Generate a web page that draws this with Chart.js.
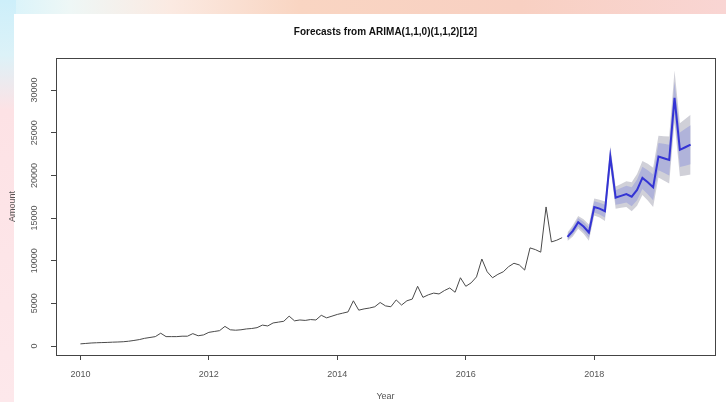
<!DOCTYPE html>
<html>
<head>
<meta charset="utf-8">
<script src="https://cdn.jsdelivr.net/npm/chart.js@4.4.1/dist/chart.umd.min.js"></script>
<style>
  html, body { margin: 0; padding: 0; }
  body {
    width: 726px; height: 402px; position: relative; overflow: hidden;
    background: linear-gradient(to right, #d6f3fb 0px, #eef7f6 70px, #fbeae2 170px, #f9d5c2 300px, #f8d0c2 520px, #f9d5d3 726px);
  }
  #side {
    position: absolute; left: 0; top: 0; width: 16px; height: 402px;
    background: linear-gradient(to bottom, #cdeffa 0px, #dcf2f8 55px, #fde2e5 110px, #fde8eb 402px);
  }
  #panel { position: absolute; left: 14px; top: 14px; right: 0; bottom: 0; background: #fff; }
  #wrap { position: absolute; left: 0; top: 0; width: 726px; height: 402px; }
</style>
</head>
<body>
<div id="side"></div>
<div id="panel"></div>
<div id="wrap"><canvas id="fc" width="726" height="402"></canvas></div>
<script>
// monthly series, Jan 2010 .. Jul 2017
const startYear = 2010;
const history = [
  250, 300, 350, 380, 400, 420, 450, 470, 500, 560, 650, 750,
  900, 1000, 1100, 1500, 1100, 1100, 1100, 1150, 1150, 1450, 1200, 1300,
  1600, 1700, 1800, 2300, 1900, 1850, 1900, 2000, 2050, 2150, 2450, 2350,
  2700, 2800, 2900, 3500, 2950, 3050, 3000, 3100, 3050, 3600, 3300, 3500,
  3700, 3850, 4000, 5300, 4200, 4350, 4450, 4600, 5100, 4700, 4600, 5400,
  4800, 5300, 5500, 7000, 5700, 6000, 6200, 6100, 6500, 6800, 6300, 8000,
  7000, 7400, 8100, 10200, 8700, 8000, 8400, 8700, 9300, 9700, 9500, 8900,
  11500, 11300, 11000, 16300, 12200, 12400, 12700
];

// 24-month forecast, Aug 2017 .. Jul 2019
const forecast = [
  12800, 13500, 14500, 14000, 13300, 16300, 16100, 15800, 22200, 17400, 17600, 17800,
  17500, 18300, 19700, 19200, 18600, 22200, 22000, 21800, 29100, 23000, 23300, 23600
];
const lo80 = [
  12470, 13070, 14010, 13440, 12680, 15640, 15410, 15050, 21380, 16550, 16680, 16820,
  16390, 17090, 18390, 17790, 17090, 20600, 20300, 20000, 27200, 20970, 21140, 21310
];
const hi80 = [
  13130, 13930, 14990, 14560, 13920, 16960, 16790, 16550, 23020, 18250, 18520, 18780,
  18610, 19510, 21010, 20610, 20110, 23800, 23700, 23600, 31000, 25030, 25460, 25890
];
const lo95 = [
  12300, 12850, 13750, 13150, 12350, 15300, 15050, 14650, 20950, 16100, 16200, 16300,
  15800, 16450, 17700, 17050, 16300, 19750, 19400, 19050, 26200, 19900, 20000, 20100
];
const hi95 = [
  13300, 14150, 15250, 14850, 14250, 17300, 17150, 16950, 23450, 18700, 19000, 19300,
  19200, 20150, 21700, 21350, 20900, 24650, 24600, 24550, 32300, 26100, 26600, 27100
];

const xTicks = [2010, 2012, 2014, 2016, 2018];
const yTicks = [0, 5000, 10000, 15000, 20000, 25000, 30000];

const toPoints = (vals, offset) => vals.map((v, i) => ({ x: startYear + (offset + i) / 12, y: v }));
const fcStart = history.length;

const band = (data, color, fill) => ({
  data: toPoints(data, fcStart), borderWidth: 0, pointRadius: 0,
  backgroundColor: color, fill: fill
});

const font = 'Liberation Sans, Arial, sans-serif';

// box around the plot region plus vertical y tick labels, base-graphics style
const rFrame = {
  id: 'rFrame',
  afterDatasetsDraw(chart) {
    const { ctx, chartArea: a, scales: { y } } = chart;
    ctx.save();
    ctx.strokeStyle = '#444';
    ctx.lineWidth = 1;
    ctx.strokeRect(Math.round(a.left) + 0.5, Math.round(a.top) + 0.5,
      Math.round(a.right - a.left), Math.round(a.bottom - a.top));
    ctx.fillStyle = '#555';
    ctx.font = '9px ' + font;
    ctx.textAlign = 'center';
    ctx.textBaseline = 'middle';
    yTicks.forEach(v => {
      ctx.save();
      ctx.translate(a.left - 21, y.getPixelForValue(v));
      ctx.rotate(-Math.PI / 2);
      ctx.fillText(String(v), 0, 0);
      ctx.restore();
    });
    ctx.restore();
  }
};

new Chart(document.getElementById('fc'), {
  type: 'line',
  data: {
    datasets: [
      { data: toPoints(history, 0), borderColor: '#4a4a4a', borderWidth: 1, pointRadius: 0, fill: false },
      { data: toPoints(forecast, fcStart), borderColor: '#3434d4', borderWidth: 2, pointRadius: 0, fill: false },
      band(hi80, '#b0b3da', '+1'),
      band(lo80, 'rgba(0,0,0,0)', false),
      band(hi95, '#d0d0d8', '+1'),
      band(lo95, 'rgba(0,0,0,0)', false)
    ]
  },
  options: {
    responsive: false,
    animation: false,
    layout: { padding: { left: 0, right: 11, top: 0, bottom: 0 } },
    plugins: {
      legend: { display: false },
      tooltip: { enabled: false },
      title: {
        display: true,
        fullSize: false,
        text: 'Forecasts from ARIMA(1,1,0)(1,1,2)[12]',
        color: '#111',
        font: { family: font, size: 10, weight: 'bold' },
        padding: { top: 26, bottom: 20 }
      }
    },
    scales: {
      x: {
        type: 'linear',
        min: 2009.62,
        max: 2019.88,
        afterBuildTicks: s => { s.ticks = xTicks.map(v => ({ value: v })); },
        afterFit: s => { s.height = 47; },
        grid: { drawOnChartArea: false, tickLength: 5, color: '#444' },
        border: { display: false },
        ticks: { color: '#555', font: { family: font, size: 9 }, padding: 9, maxRotation: 0, callback: v => String(v) },
        title: { display: true, text: 'Year', color: '#555', font: { family: font, size: 9 }, padding: { top: 0, bottom: 0 } }
      },
      y: {
        min: -1055,
        max: 33760,
        afterBuildTicks: s => { s.ticks = yTicks.map(v => ({ value: v })); },
        afterFit: s => { s.width = 56; },
        grid: { drawOnChartArea: false, tickLength: 5, color: '#444' },
        border: { display: false },
        ticks: { display: false },
        title: { display: true, text: 'Amount', color: '#555', font: { family: font, size: 9 }, padding: { top: 7, bottom: 0 } }
      }
    }
  },
  plugins: [rFrame]
});
</script>
</body>
</html>
